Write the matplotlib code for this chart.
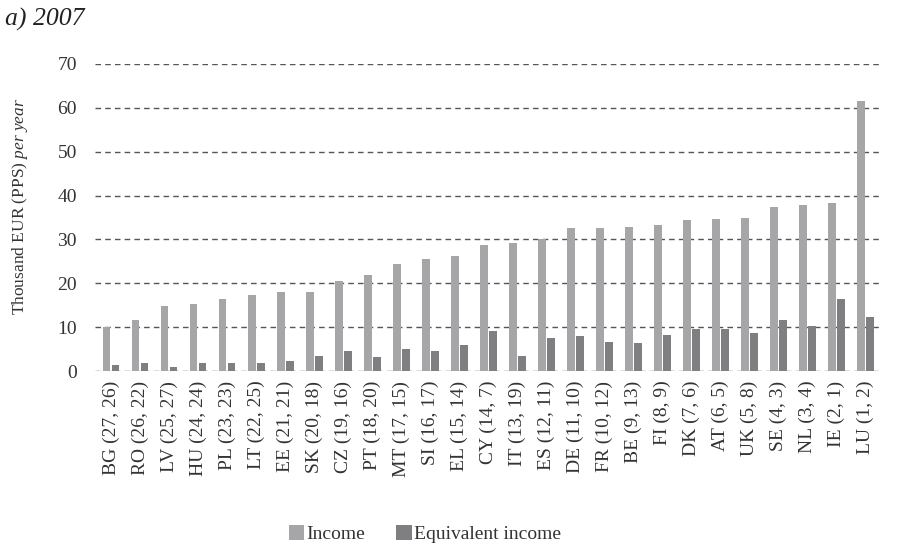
import matplotlib.pyplot as plt
import numpy as np

countries = ["BG (27, 26)", "RO (26, 22)", "LV (25, 27)", "HU (24, 24)",
             "PL (23, 23)", "LT (22, 25)", "EE (21, 21)", "SK (20, 18)",
             "CZ (19, 16)", "PT (18, 20)", "MT (17, 15)", "SI (16, 17)",
             "EL (15, 14)", "CY (14, 7)", "IT (13, 19)", "ES (12, 11)",
             "DE (11, 10)", "FR (10, 12)", "BE (9, 13)", "FI (8, 9)",
             "DK (7, 6)", "AT (6, 5)", "UK (5, 8)", "SE (4, 3)",
             "NL (3, 4)", "IE (2, 1)", "LU (1, 2)"]
income = [10.1, 11.6, 14.8, 15.2, 16.4, 17.3, 18.0, 18.0, 20.5, 21.8,
          24.3, 25.5, 26.2, 28.7, 29.1, 30.0, 32.5, 32.5, 32.9, 33.3,
          34.5, 34.6, 34.8, 37.3, 37.8, 38.2, 61.6]
equivalent = [1.3, 1.8, 0.9, 1.8, 1.8, 1.8, 2.2, 3.4, 4.6, 3.1,
              5.0, 4.6, 5.9, 9.1, 3.4, 7.5, 7.9, 6.6, 6.3, 8.2,
              9.5, 9.5, 8.7, 11.6, 10.3, 16.4, 12.3]

plt.rcParams["font.family"] = ["Liberation Serif", "DejaVu Serif"]
plt.rcParams["mathtext.fontset"] = "custom"
plt.rcParams["mathtext.rm"] = "Liberation Serif"
plt.rcParams["mathtext.it"] = "Liberation Serif:italic"

fs = 14
fig = plt.figure(figsize=(9, 5.54), dpi=100)
ax = fig.add_axes([0.1056, 0.3303, 0.8722, 0.5542])

x = np.arange(len(countries))
w = 0.27
ax.bar(x - w / 2 - 0.02, income, width=w, color="#a6a6a8",
       label="Income", zorder=3)
ax.bar(x + w / 2 + 0.02, equivalent, width=w, color="#7f7f81",
       label="Equivalent income", zorder=3)

ax.set_xlim(-0.55, 26.5)
ax.set_ylim(0, 70)
ax.set_yticks(range(0, 71, 10))
for v in range(0, 71, 10):
    ax.axhline(v, color="#555555", lw=1, dashes=(4, 3), zorder=2)

for s in ax.spines.values():
    s.set_visible(False)
ax.tick_params(axis="both", length=0, labelsize=fs, colors="#333333")
ax.tick_params(axis="y", pad=13)
ax.tick_params(axis="x", pad=7)
ax.set_xticks(x)
ax.set_xticklabels(countries, rotation=90)

fig.text(0.022, 0.627, "Thousand EUR (PPS) $\\it{per\\ year}$",
         rotation=90, ha="center", va="center", fontsize=12.5,
         color="#333333")
fig.text(0.006, 0.965, "a) 2007", fontsize=18.5, style="italic",
         ha="left", va="center", color="#222222")

fig.legend(loc="center", bbox_to_anchor=(0.472, 0.036), ncol=2,
           frameon=False, fontsize=fs, handlelength=0.8,
           handleheight=0.8, handletextpad=0.1, columnspacing=1.6,
           labelcolor="#333333")

fig.savefig("out.png", dpi=100)
